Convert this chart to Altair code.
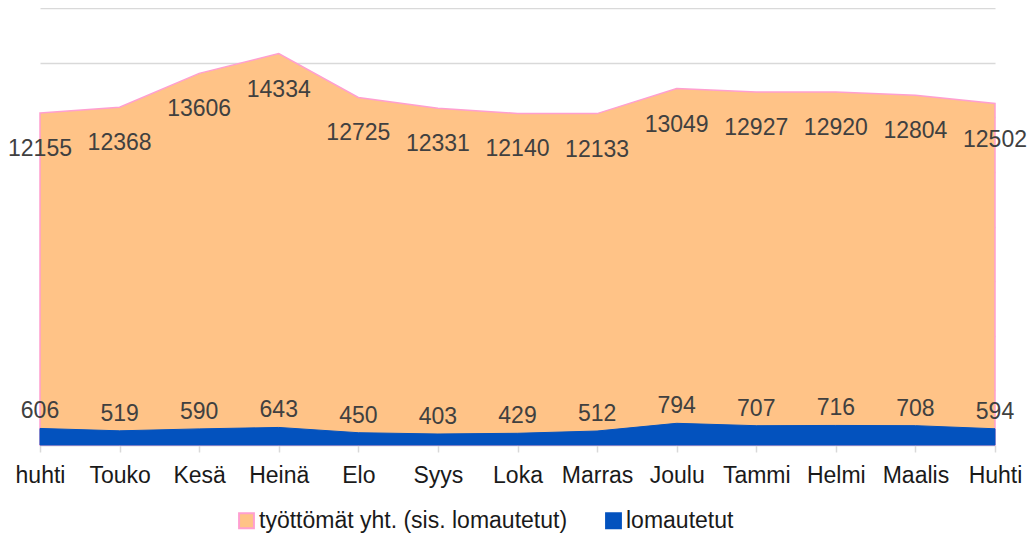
import altair as alt
import pandas as pd

months = ["huhti", "Touko", "Kesä", "Heinä", "Elo", "Syys", "Loka", "Marras",
          "Joulu", "Tammi", "Helmi", "Maalis", "Huhti"]
total = [12155, 12368, 13606, 14334, 12725, 12331, 12140, 12133,
         13049, 12927, 12920, 12804, 12502]
laid_off = [606, 519, 590, 643, 450, 403, 429, 512, 794, 707, 716, 708, 594]

S1 = "työttömät yht. (sis. lomautetut)"
S2 = "lomautetut"

rows = []
for m, t, l in zip(months, total, laid_off):
    rows.append({"month": m, "value": t, "series": S1})
    rows.append({"month": m, "value": l, "series": S2})
df = pd.DataFrame(rows)

FONT = "Liberation Sans"
FS = 23

x = alt.X("month:N", sort=months,
          scale=alt.Scale(type="point", padding=0),
          axis=alt.Axis(title=None, labelAngle=0, labelFontSize=FS, labelFont=FONT,
                        labelColor="#1a1a1a", domainColor="#d9d9d9", domainWidth=1.5,
                        tickColor="#d9d9d9", tickSize=7, tickWidth=1.5,
                        labelPadding=12, grid=False, labelOverlap=False))
y = alt.Y("value:Q", stack=None,
          scale=alt.Scale(domain=[0, 16000], nice=False),
          axis=alt.Axis(title=None, labels=False, ticks=False, domain=False,
                        values=list(range(0, 16001, 2000)),
                        gridColor="#d9d9d9", gridWidth=1.5))
fill = alt.Fill("series:N", sort=[S1, S2],
                scale=alt.Scale(domain=[S1, S2], range=["#FFC387", "#0352BE"]),
                legend=alt.Legend(title=None, orient="none", direction="horizontal",
                                  legendX=195, legendY=501, labelFontSize=FS,
                                  labelFont=FONT, labelColor="#1a1a1a", labelLimit=600,
                                  symbolType="square", symbolSize=220,
                                  symbolStrokeWidth=2, columnPadding=34,
                                  labelOffset=1, padding=0))
stroke = alt.Stroke("series:N", sort=[S1, S2],
                    scale=alt.Scale(domain=[S1, S2], range=["#FF9FD0", "#0352BE"]),
                    legend=None)

base = alt.Chart(df).encode(x=x, y=y)

area_total = base.transform_filter(alt.datum.series == S1).mark_area(
    strokeWidth=1.5, opacity=1).encode(fill=fill, stroke=stroke)
area_lo = base.transform_filter(alt.datum.series == S2).mark_area(
    strokeWidth=1, opacity=1).encode(fill=fill, stroke=stroke)

txt_total = base.transform_filter(alt.datum.series == S1).mark_text(
    font=FONT, fontSize=FS, color="#404040", dy=36).encode(text="value:Q")
txt_lo = base.transform_filter(alt.datum.series == S2).mark_text(
    font=FONT, fontSize=FS, color="#404040", dy=-17).encode(text="value:Q")

chart = (area_total + area_lo + txt_total + txt_lo).properties(
    width=955, height=437,
    autosize=alt.AutoSizeParams(type="none"),
    padding={"left": 32, "top": 0, "right": 32, "bottom": 88},
).configure_view(stroke=None)

chart.save("out.html", embed_options={"renderer": "svg", "actions": False})
